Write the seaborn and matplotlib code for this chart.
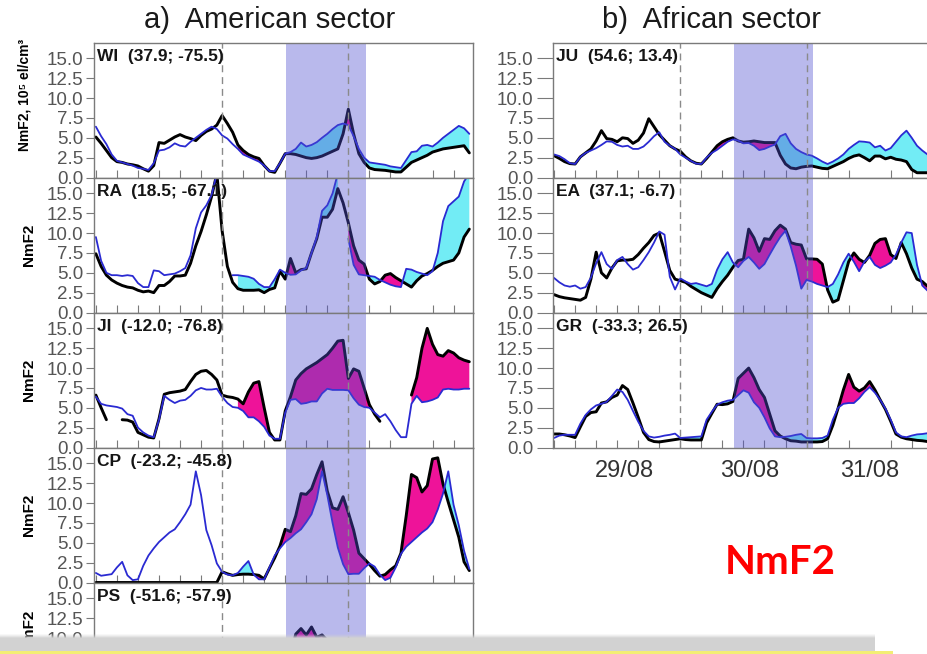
import numpy as np
import matplotlib
matplotlib.use("Agg")
import matplotlib.pyplot as plt
import seaborn as sns
from matplotlib.patches import Rectangle

nan = np.nan

# ---------------- data (NmF2, 10^5 el/cm^3, hourly, 29-31 Aug) ----------------
hours = np.arange(72)
yticks = [0.0, 2.5, 5.0, 7.5, 10.0, 12.5, 15.0]
ytick_labels = ["0.0", "2.5", "5.0", "7.5", "10.0", "12.5", "15.0"]
day_labels = ["29/08", "30/08", "31/08"]
sector_titles = ["a)  American sector", "b)  African sector"]
left_names = ["WI  (37.9; -75.5)", "RA  (18.5; -67.1)", "JI  (-12.0; -76.8)",
              "CP  (-23.2; -45.8)", "PS  (-51.6; -57.9)"]
right_names = ["JU  (54.6; 13.4)", "EA  (37.1; -6.7)", "GR  (-33.3; 26.5)"]

wi_obs = [5.1, 4.3, 3.4, 2.5, 2.0, 1.9, 1.7, 1.6, 1.45, 1.1, 0.8, 1.5,
          4.4, 4.3, 4.7, 5.1, 5.4, 5.1, 4.9, 4.65, 5.3, 5.8, 6.1, 6.6,
          7.8, 6.8, 5.7, 4.1, 3.4, 2.9, 2.6, 2.4, 1.5, 0.8, 0.65, 1.8,
          3.0, 3.0, 2.9, 2.7, 2.5, 2.4, 2.5, 2.7, 3.0, 3.3, 3.6, 5.5,
          8.6, 5.5, 3.0, 1.9, 1.2, 1.0, 0.95, 0.9, 0.8, 0.7, 0.7, 1.3,
          1.9, 2.2, 2.5, 2.8, 3.2, 3.4, 3.6, 3.7, 3.8, 3.9, 4.0, 3.1]
wi_med = [6.4, 5.2, 4.2, 2.9, 2.1, 1.9, 1.7, 1.5, 1.2, 1.1, 0.95, 1.8,
          3.4, 3.5, 3.8, 4.3, 4.0, 3.9, 4.5, 5.0, 5.5, 6.0, 6.4, 6.1,
          5.3, 4.9, 4.2, 3.6, 2.9, 2.6, 2.3, 2.0, 1.5, 0.8, 0.8, 1.8,
          3.0, 3.2, 3.6, 4.4, 3.9, 4.1, 4.45, 5.0, 5.5, 6.1, 6.6, 6.8,
          6.6, 5.2, 3.6, 2.5, 1.9, 1.8, 1.7, 1.6, 1.4, 1.3, 1.2, 2.2,
          3.2, 3.3, 4.0, 4.1, 3.9, 4.4, 5.0, 5.5, 6.0, 6.5, 6.2, 5.5]

ra_obs = [7.4, 5.8, 4.7, 4.1, 3.7, 3.4, 3.2, 3.1, 2.8, 2.6, 2.7, 2.5,
          3.4, 3.4, 3.9, 4.6, 4.6, 4.7, 6.2, 8.4, 10.2, 12.3, 14.6, 17.5,
          10.3, 5.8, 3.8, 3.0, 2.8, 2.8, 2.8, 2.85, 2.5, 2.9, 3.1, 5.2,
          4.2, 6.8, 5.0, 5.4, 5.5, 7.5, 9.3, 12.0, 12.0, 13.0, 15.6, 13.8,
          11.3, 8.4, 6.6, 6.1, 4.2, 3.6, 3.9, 4.7, 4.9, 4.4, 4.0, 3.6,
          3.2, 4.0, 4.6, 4.9, 5.3, 5.8, 6.2, 6.4, 6.6, 7.5, 9.5, 10.5]
ra_med = [9.5, 6.5, 5.0, 4.7, 4.7, 4.6, 4.7, 4.6, 3.7, 3.2, 3.2, 5.3,
          5.2, 4.7, 4.8, 4.9, 5.2, 5.6, 7.2, 10.6, 12.6, 13.5, 14.8, 17.5,
          nan, nan, 4.7, 4.7, 4.6, 4.5, 4.25, 3.6, 3.2, 3.2, 4.2, 5.4,
          5.0, 4.75, 4.8, 5.3, 5.6, 7.5, 9.5, 12.8, 13.5, 15.0, 17.5, nan,
          9.3, 6.0, 4.8, 4.7, 4.6, 4.5, 4.1, 3.8, 3.5, 3.3, 3.2, 5.5,
          5.4, 5.1, 4.9, 4.7, 5.2, 7.5, 11.5, 13.4, 14.0, 14.6, 16.5, 17.5]

ji_obs = [6.6, 5.0, 3.5, nan, nan, 3.5, 3.45, 3.2, 1.9, 1.6, 1.3, 1.2,
          3.6, 6.7, 6.9, 7.0, 7.1, 7.3, 8.3, 9.2, 9.6, 9.7, 9.2, 8.5,
          6.6, 6.4, 6.3, 6.1, 5.5, 7.0, 8.1, 8.3, 5.0, 1.9, 0.95, 0.95,
          4.6, 6.4, 8.5, 9.3, 9.9, 10.3, 10.7, 11.2, 11.7, 12.5, 13.4, 13.5,
          8.7, 9.9, 9.6, 7.5, 5.4, 4.2, 3.3, nan, nan, nan, nan, nan,
          6.6, 8.8, 12.5, 15.0, 13.0, 11.7, 11.5, 12.2, 11.9, 11.3, 11.0, 10.8]
ji_med = [6.4, 5.5, 5.3, 5.2, 5.1, 4.9, 4.2, 4.0, 2.5, 1.9, 1.5, 1.3,
          3.5, 6.5, 6.0, 5.6, 5.9, 6.0, 6.5, 7.2, 7.5, 7.3, 7.3, 7.4,
          6.4, 5.6, 5.1, 5.0, 4.6, 3.8, 3.8, 3.3, 2.6, 1.5, 1.1, 1.1,
          4.4, 6.0, 6.1, 5.5, 5.6, 5.8, 5.8, 6.8, 7.4, 7.25, 7.25, 7.25,
          7.2, 6.2, 5.4, 5.1, 5.0, 4.4, 3.8, 4.2, 3.3, 2.2, 1.3, 1.3,
          5.5, 6.5, 5.7, 5.8, 6.0, 6.3, 7.3, 7.4, 7.3, 7.3, 7.4, 7.4]

cp_obs = [0.0, 0.0, 0.0, 0.0, 0.0, 0.0, 0.0, 0.0, 0.0, 0.0, 0.0, 0.0,
          0.0, 0.0, 0.0, 0.0, 0.0, 0.0, 0.0, 0.0, 0.0, 0.0, 0.0, 0.0,
          1.35, 1.1, 0.9, 1.0, 1.05, 1.05, 1.0, 0.9, 0.45, 1.8, 3.1, 4.6,
          6.7, 6.4, 8.4, 11.2, 11.1, 11.8, 13.6, 15.2, 11.5, 9.4, 9.2, 10.8,
          8.8, 6.6, 3.7, 3.0, 2.3, 1.5, 0.8, 1.0, 1.6, 2.1, 3.7, 8.4,
          13.6, 13.2, 11.4, 12.2, 15.55, 15.7, 12.4, 10.1, 7.9, 5.7, 2.6, 1.5]
cp_med = [1.2, 0.85, 0.95, 1.05, 1.9, 2.6, 0.9, 0.3, 0.4, 2.1, 3.4, 4.3,
          5.1, 5.7, 6.3, 6.7, 7.6, 8.6, 9.8, 14.0, 11.0, 6.6, 4.7, 2.4,
          1.35, 1.0, 0.9, 1.2, 2.0, 2.7, 1.0, 0.4, 0.4, 1.9, 3.4, 4.3,
          5.1, 5.6, 6.2, 6.7, 7.6, 8.6, 10.5, 14.0, 11.0, 7.5, 4.4, 2.3,
          1.05, 1.1, 1.1, 1.8, 2.4, 2.0, 1.0, 0.3, 0.6, 1.9, 3.6, 4.5,
          5.1, 5.7, 6.3, 6.8, 7.6, 9.2, 11.2, 14.0, 9.8, 7.2, 4.0, 1.7]

# PS: only the storm-time peak is visible above the bottom banner
ps_hours = [34, 35, 36, 37, 38, 39, 40, 41, 42, 43, 44, 45, 46, 47]
ps_obs = [3.5, 5.0, 6.5, 8.0, 10.5, 11.2, 10.4, 11.4, 10.1, 10.4, 9.7, 8.0, 6.5, 5.0]
ps_med = [3.0, 4.0, 5.0, 5.5, 6.0, 6.5, 7.0, 7.0, 6.5, 6.0, 5.0, 4.0, 3.0, 2.5]

ju_obs = [2.75, 2.4, 2.0, 1.75, 1.7, 2.6, 3.1, 3.6, 4.6, 5.9, 4.9, 4.8,
          4.5, 5.0, 4.9, 4.3, 4.7, 5.6, 7.4, 6.4, 5.4, 4.7, 4.0, 3.6,
          3.3, 2.6, 2.1, 1.8, 1.7, 2.4, 3.2, 4.0, 4.5, 4.8, 5.0, 4.6,
          4.45, 4.5, 4.6, 4.5, 4.4, 4.4, 4.4, 2.8, 1.7, 1.2, 1.1, 1.3,
          1.4, 1.45, 1.3, 1.15, 1.1, 1.4, 1.7, 2.0, 2.4, 2.7, 2.85, 2.5,
          2.1, 2.7, 2.7, 2.35, 2.55, 2.3, 2.2, 2.0, 1.0, 0.6, 0.6, 0.6]
ju_med = [2.9, 2.7, 2.3, 1.8, 1.7, 2.6, 3.1, 3.4, 3.7, 4.1, 4.55, 4.5,
          4.1, 3.9, 4.0, 3.6, 3.6, 3.9, 4.5, 5.2, 5.7, 4.5, 4.0, 3.6,
          2.9, 2.5, 2.1, 1.75, 1.7, 2.5, 3.1, 3.5, 4.0, 4.5, 4.8, 4.65,
          4.3, 4.35, 4.0, 3.45, 3.6, 3.9, 4.15, 5.2, 5.5, 4.3, 3.6, 3.2,
          2.9, 2.75, 2.4, 2.0, 1.7, 2.0, 2.4, 2.9, 3.6, 4.1, 4.55, 4.5,
          4.4, 3.8, 4.0, 3.4, 3.7, 4.5, 5.3, 5.9, 5.0, 4.0, 3.4, 2.9]

ea_obs = [2.25, 2.0, 1.85, 1.75, 1.65, 1.55, 1.9, 4.2, 7.6, 5.0, 4.35, 5.6,
          6.5, 6.6, 6.6, 6.7, 7.3, 8.1, 8.8, 9.7, 10.0, 7.7, 5.3, 4.2,
          4.0, 3.8, 3.3, 2.9, 2.5, 2.2, 1.9, 3.0, 3.9, 4.7, 5.7, 6.55,
          6.7, 10.5, 9.4, 7.7, 9.3, 9.2, 10.3, 11.0, 10.5, 8.8, 8.6, 8.5,
          6.75, 6.75, 6.7, 6.1, 2.85, 1.3, 1.6, 4.0, 6.4, 7.5, 6.7, 6.3,
          7.2, 8.7, 9.2, 9.3, 7.3, 6.8, 8.8, 7.4, 5.6, 4.2, 3.9, 3.3]
ea_med = [4.35, 3.8, 3.4, 3.25, 3.4, 3.0, 3.2, 4.4, 6.2, 7.6, 6.1, 5.5,
          6.6, 7.0, 6.1, 5.4, 5.7, 6.6, 7.6, 8.8, 10.2, 9.8, 4.5, 2.9,
          4.3, 3.9, 3.6, 3.7, 3.5, 3.3, 3.6, 5.4, 6.7, 7.6, 6.3, 5.7,
          6.5, 7.0, 6.3, 5.5, 6.1, 7.3, 8.45, 9.5, 10.3, 8.3, 5.9, 3.0,
          4.1, 3.9, 3.6, 3.4, 3.2, 3.6, 4.8, 6.3, 7.4, 6.4, 5.2, 6.4,
          7.0, 6.0, 5.6, 5.9, 6.3, 7.3, 8.8, 10.1, 10.0, 6.0, 3.4, 2.75]

gr_obs = [1.7, 1.7, 1.6, 1.45, 1.25, 2.6, 3.9, 4.4, 4.5, 5.6, 5.75, 6.3,
          6.6, 7.8, 7.3, 5.6, 3.8, 1.9, 1.0, 0.75, 0.7, 0.8, 0.9, 1.0,
          1.1, 1.0, 0.95, 0.95, 0.95, 3.1, 4.3, 5.45, 5.4, 5.5, 5.8, 8.7,
          9.35, 10.0, 8.8, 7.3, 6.3, 4.2, 2.1, 1.45, 1.1, 0.85, 0.8, 0.7,
          0.7, 0.7, 0.7, 0.75, 1.1, 2.8, 4.95, 7.25, 9.2, 7.6, 7.1, 7.5,
          8.3, 7.25, 6.0, 4.8, 3.3, 1.7, 1.3, 1.1, 1.0, 0.9, 0.85, 0.75]
gr_med = [1.2, 1.5, 1.6, 1.6, 1.6, 3.0, 4.1, 4.8, 5.3, 5.5, 5.75, 6.5,
          7.3, 7.0, 6.0, 4.6, 3.25, 2.1, 1.4, 1.25, 1.35, 1.5, 1.6, 1.75,
          1.2, 1.25, 1.3, 1.35, 1.4, 3.5, 4.5, 5.4, 5.7, 5.9, 6.0, 6.6,
          7.2, 6.9, 5.7, 5.0, 3.8, 2.4, 1.4, 1.3, 1.35, 1.45, 1.6, 1.7,
          1.2, 1.15, 1.15, 1.2, 1.5, 3.5, 5.0, 5.5, 5.6, 5.6, 6.2, 7.0,
          7.6, 6.9, 6.0, 4.9, 3.5, 1.9, 1.4, 1.3, 1.5, 1.65, 1.7, 1.8]

# ---------------- layout / style constants ----------------
W, H = 927, 654
LEFT_FILL_FROM = 27
RIGHT_FILL_FROM = 24
DAY_BOUNDS = [24, 48]
DAY_LABEL_POS = [13.4, 37.2, 60.0]
LEFT_BAND = (36.1, 51.3)
RIGHT_BAND = (34.2, 49.3)
MAGENTA = "#ee1399"
CYAN = "#72ecf5"
BLUE = "#2a2ad2"
BAND = "#5050d0"
SPINE = "#7a7a7a"

sns.set_theme(style="white")
plt.rcParams["font.family"] = ["Liberation Sans", "DejaVu Sans"]

fig = plt.figure(figsize=(W / 100, H / 100), dpi=100)
fig.patch.set_facecolor("white")


def fx(px):
    return px / W


def fy(py):
    return 1 - py / H


PANEL_H, TOP, PANEL_W = 135.0, 42.5, 378.7


def make_ax(x0, row):
    top = TOP + PANEL_H * row
    return fig.add_axes([fx(x0), fy(top + PANEL_H), PANEL_W / W, PANEL_H / H])


def seg_ids(v):
    return np.cumsum(np.isnan(v))


def draw_panel(ax, h, obs, med, name, band, ticklen, fill_from,
               dates=False, visible_ticks=None):
    h = np.asarray(h, float)
    obs = np.asarray(obs, float)
    med = np.asarray(med, float)
    k = h >= fill_from
    hk, ok, mk = h[k], obs[k], med[k]
    ax.fill_between(hk, ok, mk, where=ok >= mk, interpolate=True,
                    color=MAGENTA, lw=0, zorder=1)
    ax.fill_between(hk, ok, mk, where=ok < mk, interpolate=True,
                    color=CYAN, lw=0, zorder=1)
    sns.lineplot(x=h, y=obs, units=seg_ids(obs), estimator=None, color="black",
                 lw=2.1, ax=ax, zorder=2, legend=False)
    sns.lineplot(x=h, y=med, units=seg_ids(med), estimator=None, color=BLUE,
                 lw=1.3, ax=ax, zorder=3, legend=False)
    ax.axvspan(band[0], band[1], color=BAND, alpha=0.4, lw=0, zorder=4)
    for d in DAY_BOUNDS:
        ax.axvline(d, color="#8a8a8a", lw=1.0, ls=(0, (5, 3.5)), zorder=5)
    ax.set_xlim(-0.3, 71.7)
    ax.set_ylim(0, 17)
    ax.set_xlabel("")
    ax.set_ylabel("")
    ax.set_yticks(yticks)
    if visible_ticks is None:
        ax.set_yticklabels(ytick_labels)
    else:
        ax.set_yticklabels([t if t in visible_ticks else "" for t in ytick_labels])
    ax.tick_params(axis="y", which="major", left=True, direction="out",
                   length=ticklen, width=0.8, color=SPINE, labelsize=13.5,
                   labelcolor="#555555", pad=2)
    ax.set_xticks(np.arange(0, 72, 4), minor=True)
    ax.set_xticks(DAY_LABEL_POS)
    ax.set_xticklabels(day_labels if dates else [])
    ax.tick_params(axis="x", which="minor", bottom=True, direction="in",
                   length=6, width=0.8, color=SPINE)
    ax.tick_params(axis="x", which="major", bottom=True, length=0,
                   labelsize=17, labelcolor="#333333", pad=9)
    for s in ax.spines.values():
        s.set_color(SPINE)
        s.set_linewidth(1.0)
        s.set_zorder(6)
    ax.text(0.008, 0.955, name, transform=ax.transAxes, ha="left", va="top",
            fontsize=12.5, fontweight="bold", color="#151515", zorder=7)
    ax.set_facecolor("white")


left_data = [(hours, wi_obs, wi_med), (hours, ra_obs, ra_med),
             (hours, ji_obs, ji_med), (hours, cp_obs, cp_med),
             (ps_hours, ps_obs, ps_med)]
right_data = [(hours, ju_obs, ju_med), (hours, ea_obs, ea_med),
              (hours, gr_obs, gr_med)]

for i, (h, o, m) in enumerate(left_data):
    ax = make_ax(94.3, i)
    vis = ["10.0", "12.5", "15.0"] if i == 4 else None
    draw_panel(ax, h, o, m, left_names[i], LEFT_BAND, 6, LEFT_FILL_FROM,
               visible_ticks=vis)

for i, (h, o, m) in enumerate(right_data):
    ax = make_ax(552.5, i)
    draw_panel(ax, h, o, m, right_names[i], RIGHT_BAND, 11.5, RIGHT_FILL_FROM,
               dates=(i == 2))

# y labels
fig.text(fx(25), fy(95), "NmF2, 10\u2075 el/cm\u00b3", rotation=90, ha="center",
         va="center", fontsize=10, fontweight="bold", color="black")
for i in range(1, 4):
    fig.text(fx(29), fy(TOP + PANEL_H * (i + 0.5)), "NmF2", rotation=90,
             ha="center", va="center", fontsize=11, fontweight="bold", color="black")
fig.text(fx(29), fy(652), "NmF2", rotation=90, ha="center", va="bottom",
         fontsize=11, fontweight="bold", color="black")

# sector titles
fig.text(fx(270), fy(20), sector_titles[0], ha="center", va="center",
         fontsize=21, color="#1a1a1a")
fig.text(fx(712), fy(20), sector_titles[1], ha="center", va="center",
         fontsize=21, color="#1a1a1a")

# big red label
fig.text(fx(780), fy(563), "NmF2", ha="center", va="center", fontsize=29,
         fontweight="bold", color="#ff0000", family=["Lato", "DejaVu Sans"])

# bottom banner (video overlay)
for j, a in enumerate([0.15, 0.35, 0.6, 0.85]):
    fig.add_artist(Rectangle((0, fy(634 + j + 1)), fx(875), 1 / H,
                             transform=fig.transFigure, color="#d2d2d2",
                             alpha=a, lw=0, zorder=20))
fig.add_artist(Rectangle((0, fy(651.5)), fx(875), (651.5 - 638) / H,
                         transform=fig.transFigure, color="#d2d2d2", lw=0, zorder=20))
fig.add_artist(Rectangle((0, 0), fx(893), 2.6 / H, transform=fig.transFigure,
                         color="#f3ee74", lw=0, zorder=21))

fig.savefig("out.png", dpi=100)
